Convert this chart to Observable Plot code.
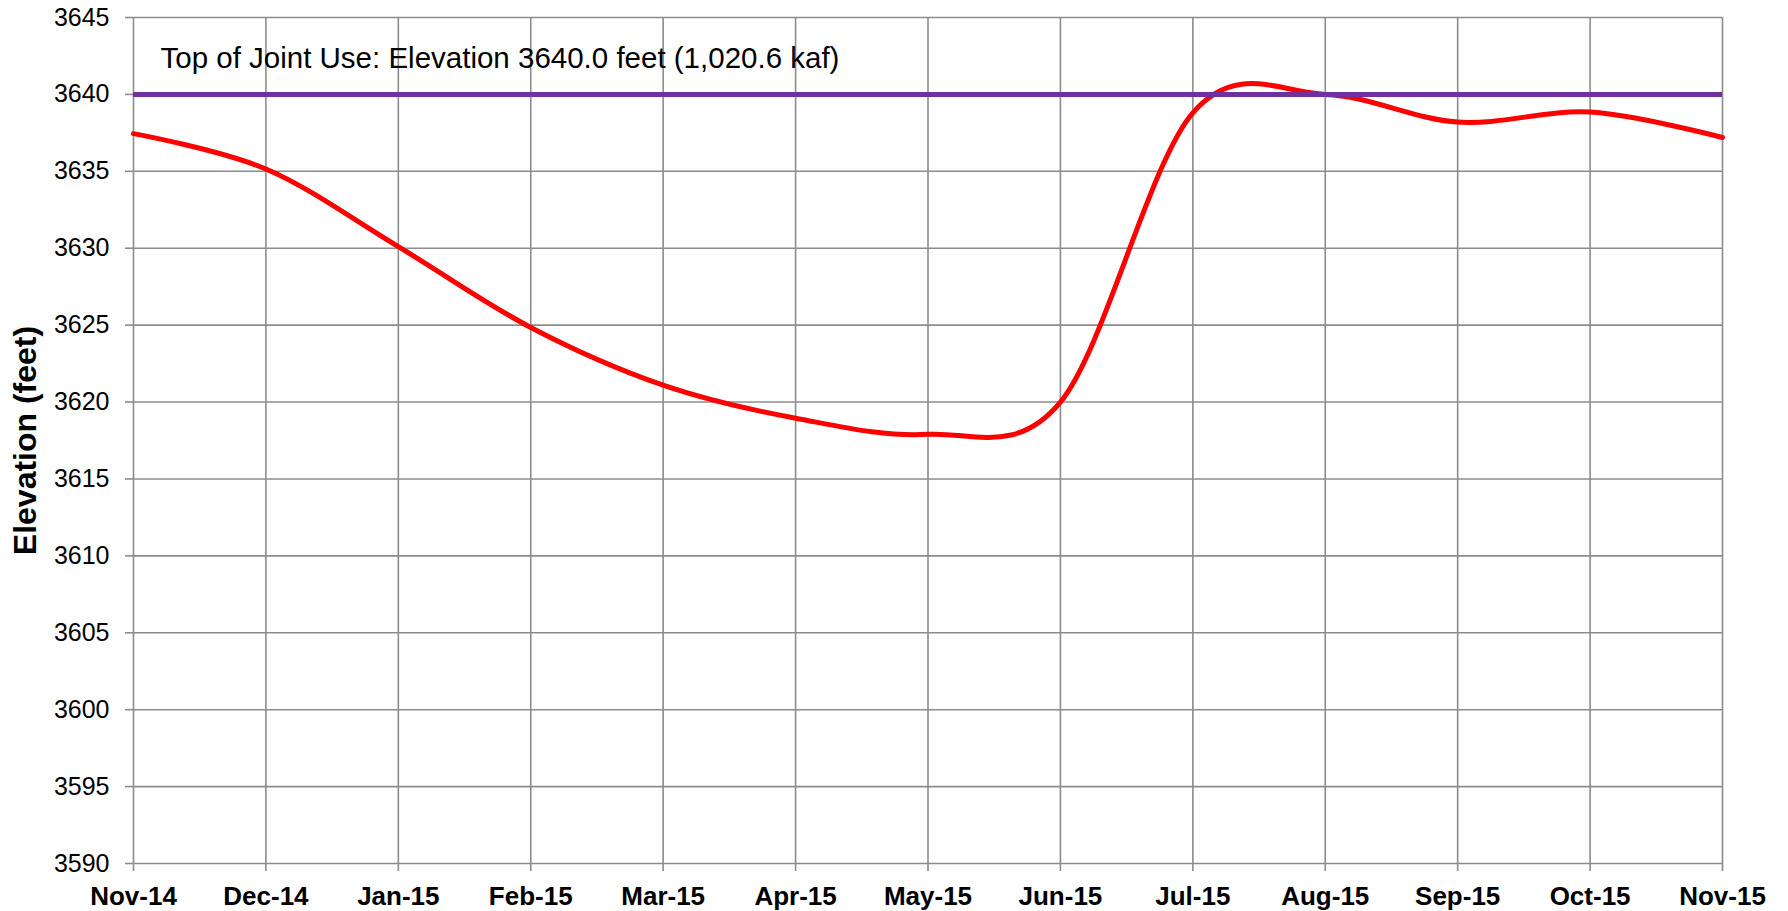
<!DOCTYPE html>
<html>
<head>
<meta charset="utf-8">
<script src="https://cdn.jsdelivr.net/npm/d3@7"></script>
<script src="https://cdn.jsdelivr.net/npm/@observablehq/plot@0.6"></script>
<style>
  html, body { margin: 0; padding: 0; background: #ffffff; overflow: hidden; }
  #chart svg { display: block; }
</style>
</head>
<body>
<div id="chart"></div>
<script>
// ---- data ----
const monthLabels = ["Nov-14", "Dec-14", "Jan-15", "Feb-15", "Mar-15", "Apr-15", "May-15",
                     "Jun-15", "Jul-15", "Aug-15", "Sep-15", "Oct-15", "Nov-15"];
const elevation = [3637.45, 3635.15, 3630.1, 3624.85, 3621.1, 3618.95, 3617.9,
                   3620.0, 3638.8, 3640.0, 3638.2, 3638.85, 3637.2];
const topOfJointUse = 3640.0;
const annotationText = "Top of Joint Use: Elevation 3640.0 feet (1,020.6 kaf)";
const yTicks = [3590, 3595, 3600, 3605, 3610, 3615, 3620, 3625, 3630, 3635, 3640, 3645];
const yTitle = "Elevation (feet)";

const monthIndex = monthLabels.map((_, i) => i);
const series = monthIndex.map(i => ({i, v: elevation[i]}));

const gridColor = "#8c8c8c";
const font = "'Liberation Sans', Arial, Helvetica, sans-serif";

const chart = Plot.plot({
  width: 1788,
  height: 911,
  marginLeft: 133,
  marginRight: 66,
  marginTop: 17,
  marginBottom: 48,
  style: {background: "#ffffff", fontFamily: font, color: "#000000", overflow: "visible"},
  x: {type: "linear", domain: [0, 12]},
  y: {domain: [3590, 3645]},
  marks: [
    Plot.gridX(monthIndex, {stroke: gridColor, strokeOpacity: 1, strokeWidth: 1.6}),
    Plot.gridY(yTicks, {stroke: gridColor, strokeOpacity: 1, strokeWidth: 1.6}),
    Plot.axisX(monthIndex, {
      tickSize: 8, tickPadding: 15, stroke: gridColor, strokeWidth: 1.6,
      tickFormat: i => monthLabels[i], fontSize: 26, fontWeight: "bold", label: null
    }),
    Plot.axisY(yTicks, {
      tickSize: 8, tickPadding: 16, stroke: gridColor, strokeWidth: 1.6,
      tickFormat: d => String(d), fontSize: 25, label: null
    }),
    Plot.text([yTitle], {
      frameAnchor: "left", rotate: -90, dx: -108, text: d => d,
      fontSize: 32, fontWeight: "bold", textAnchor: "middle", lineAnchor: "middle", fill: "#000"
    }),
    Plot.text([annotationText], {
      frameAnchor: "top-left", dx: 27, dy: 41, text: d => d,
      fontSize: 29.5, textAnchor: "start", lineAnchor: "middle", fill: "#000"
    }),
    Plot.line(series, {x: "i", y: "v", curve: "cardinal", stroke: "#ff0000", strokeWidth: 5}),
    Plot.ruleY([topOfJointUse], {stroke: "#7030a0", strokeWidth: 5})
  ]
});

document.getElementById("chart").appendChild(chart);
</script>
</body>
</html>
